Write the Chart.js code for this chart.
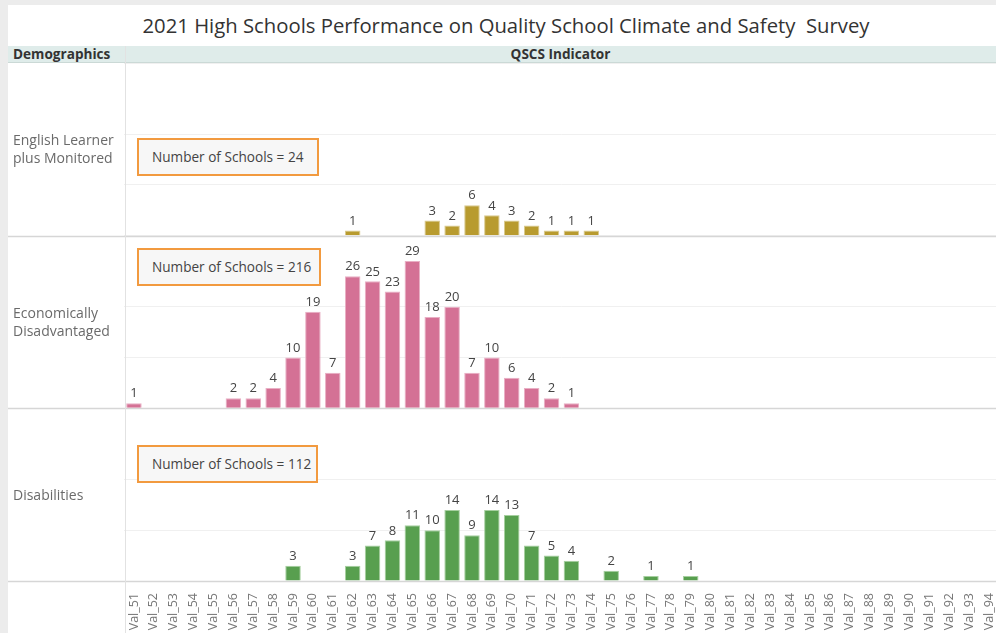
<!DOCTYPE html>
<html>
<head>
<meta charset="utf-8">
<script src="https://cdn.jsdelivr.net/npm/chart.js@4.4.1/dist/chart.umd.min.js"></script>
<style>
  html, body { margin: 0; padding: 0; }
  body {
    width: 996px; height: 633px; overflow: hidden; position: relative;
    background: #ececec; font-family: "Open Sans", sans-serif; color: #333;
  }
  #panel { position: absolute; left: 8px; top: 5px; right: 0; bottom: 0; background: #fff; }
  #title {
    position: absolute; left: 8px; width: 996px; top: 11px;
    text-align: center; font-size: 20.3px; color: #333; white-space: pre;
  }
  #header {
    position: absolute; left: 8px; right: 0; top: 46px; height: 16px;
    background: #dfecea; border-bottom: 1px solid #cbd9d6;
  }
  .hdr { position: absolute; top: 45px; font-size: 13.6px; font-weight: bold; color: #333; line-height: 18px; }
  #divider { position: absolute; left: 125px; top: 46px; width: 1px; height: 590px; background: #e2e2e2; }
  .rowlabel { position: absolute; left: 13px; font-size: 14px; line-height: 18px; color: #6a6a6a; }
  .count {
    position: absolute; box-sizing: border-box; height: 38px;
    border: 2px solid #f29a3f; background: #f7f7f7;
    font-size: 13.6px; color: #444; line-height: 34px; padding-left: 13px;
  }
  #chartWrap { position: absolute; left: 8px; top: 63px; width: 1000px; height: 570px; }
</style>
</head>
<body>
<div id="panel"></div>
<div id="title">2021 High Schools Performance on Quality School Climate and Safety  Survey</div>
<div id="header"></div>
<div class="hdr" style="left:13px;">Demographics</div>
<div class="hdr" style="left:125px; width:871px; text-align:center;">QSCS Indicator</div>

<div id="chartWrap"><canvas id="chart" width="1000" height="570"></canvas></div>
<div id="divider"></div>

<div class="rowlabel" style="top:131px;">English Learner<br>plus Monitored</div>
<div class="rowlabel" style="top:304px;">Economically<br>Disadvantaged</div>
<div class="rowlabel" style="top:486px;">Disabilities</div>

<div class="count" style="left:137px; top:138px; width:182px;">Number of Schools = 24</div>
<div class="count" style="left:137px; top:248px; width:184px;">Number of Schools = 216</div>
<div class="count" style="left:137px; top:445px; width:181px;">Number of Schools = 112</div>

<script>
// QSCS indicator buckets
const categories = [
  'Val_51', 'Val_52', 'Val_53', 'Val_54', 'Val_55', 'Val_56', 'Val_57', 'Val_58', 'Val_59', 'Val_60',
  'Val_61', 'Val_62', 'Val_63', 'Val_64', 'Val_65', 'Val_66', 'Val_67', 'Val_68', 'Val_69', 'Val_70',
  'Val_71', 'Val_72', 'Val_73', 'Val_74', 'Val_75', 'Val_76', 'Val_77', 'Val_78', 'Val_79', 'Val_80',
  'Val_81', 'Val_82', 'Val_83', 'Val_84', 'Val_85', 'Val_86', 'Val_87', 'Val_88', 'Val_89', 'Val_90',
  'Val_91', 'Val_92', 'Val_93', 'Val_94'
];

// number of schools per bucket (null = no schools)
const englishLearner = [
  null, null, null, null, null, null, null, null, null, null,
  null, 1, null, null, null, 3, 2, 6, 4, 3,
  2, 1, 1, 1, null, null, null, null, null, null,
  null, null, null, null, null, null, null, null, null, null,
  null, null, null, null
];
const econDisadvantaged = [
  1, null, null, null, null, 2, 2, 4, 10, 19,
  7, 26, 25, 23, 29, 18, 20, 7, 10, 6,
  4, 2, 1, null, null, null, null, null, null, null,
  null, null, null, null, null, null, null, null, null, null,
  null, null, null, null
];
const disabilities = [
  null, null, null, null, null, null, null, null, 3, null,
  null, 3, 7, 8, 11, 10, 14, 9, 14, 13,
  7, 5, 4, null, 2, null, 1, null, 1, null,
  null, null, null, null, null, null, null, null, null, null,
  null, null, null, null
];

const rowMax = 34;
const fontFamily = '"Open Sans", sans-serif';

// value labels above each bar
const barLabels = {
  id: 'barLabels',
  afterDatasetsDraw(chart) {
    const ctx = chart.ctx;
    ctx.save();
    ctx.font = '13px ' + fontFamily;
    ctx.fillStyle = '#444';
    ctx.textAlign = 'center';
    ctx.textBaseline = 'bottom';
    chart.data.datasets.forEach((ds, i) => {
      chart.getDatasetMeta(i).data.forEach((bar, j) => {
        if (ds.data[j] == null) return;
        ctx.fillText(ds.data[j], bar.x, bar.y - 3);
      });
    });
    ctx.restore();
  }
};

// row separators across the whole panel, at each row's baseline
const rowLines = {
  id: 'rowLines',
  beforeDatasetsDraw(chart) {
    const ctx = chart.ctx;
    ctx.save();
    ctx.strokeStyle = '#d6d6d6';
    ctx.lineWidth = 1.5;
    ['yEL', 'yED', 'yDis'].forEach(id => {
      const y = Math.round(chart.scales[id].getPixelForValue(0)) + 0.5;
      ctx.beginPath();
      ctx.moveTo(0, y);
      ctx.lineTo(chart.width, y);
      ctx.stroke();
    });
    ctx.restore();
  }
};

function rowScale() {
  return {
    type: 'linear',
    position: 'left',
    stack: 'rows',
    stackWeight: 1,
    min: 0,
    max: rowMax,
    ticks: { display: false, stepSize: 10 },
    grid: { color: '#f0f0f0', drawTicks: false },
    border: { display: false }
  };
}

function barSet(label, data, color, border, axis) {
  return {
    label: label,
    data: data,
    yAxisID: axis,
    backgroundColor: color,
    borderColor: border,
    borderWidth: 1,
    grouped: false,
    categoryPercentage: 1,
    barPercentage: 0.78
  };
}

new Chart(document.getElementById('chart'), {
  type: 'bar',
  data: {
    labels: categories,
    datasets: [
      barSet('English Learner plus Monitored', englishLearner, '#b89b2f', '#d9c98e', 'yEL'),
      barSet('Economically Disadvantaged', econDisadvantaged, '#d47195', '#e9afc4', 'yED'),
      barSet('Disabilities', disabilities, '#589f4f', '#a6cf9f', 'yDis')
    ]
  },
  options: {
    responsive: false,
    animation: false,
    layout: { padding: { left: 116, right: 0, top: 0, bottom: 0 } },
    plugins: {
      legend: { display: false },
      tooltip: { enabled: false }
    },
    scales: {
      x: {
        type: 'category',
        offset: true,
        grid: { display: false },
        border: { display: false },
        ticks: {
          autoSkip: false,
          minRotation: 90,
          maxRotation: 90,
          padding: 4,
          color: '#777',
          font: { family: fontFamily, size: 12.5 }
        },
        afterFit: (scale) => { scale.height = 52; }
      },
      yDis: rowScale(),
      yED: rowScale(),
      yEL: rowScale()
    }
  },
  plugins: [rowLines, barLabels]
});
</script>
</body>
</html>
